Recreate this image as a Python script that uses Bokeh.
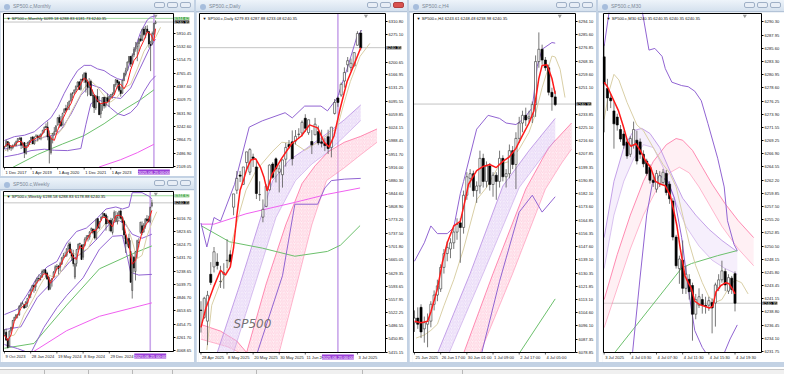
from bokeh.plotting import figure
from bokeh.models import Range1d, FixedTicker, PrintfTickFormatter, Label, Div, LinearAxis
from bokeh.layouts import row, column
from bokeh.embed import file_html
from bokeh.resources import INLINE

FONT = "Liberation Sans"
FSN = 4.1
FS = "%.1fpx" % FSN
PRICE = 6240.35
ASK = 6344.62
CROSS = "2025.06.25 00:00"

# ---------------- Monthly ----------------
m_open = [2645, 2683,2816,2716,2633,2643,2718,2705,2822,2897,2926,2718,2790,
          2476,2703,2798,2848,2953,2751,2971,2981,2910,2983,3050,3144,
          3245,3236,2974,2499,2869,3038,3106,3289,3508,3386,3296,3645,
          3764,3731,3842,3993,4192,4217,4300,4406,4529,4318,4610,4602,
          4778,4519,4363,4540,4131,4150,3781,4113,3937,3610,3901,4087,
          3853,4070,3964,4102,4166,4181,4450,4578,4530,4284,4202,4568,
          4743,4862,5098,5258,5029,5298,5471,5537,5623,5758,5723,6040,
          5903,6041,5969,5597,5626,5897,6199]
m_high = [2695, 2873,2835,2801,2718,2742,2791,2848,2917,2941,2940,2815,2800,
          2708,2814,2860,2949,2955,2965,3028,3014,3022,3050,3154,3248,
          3338,3393,3136,2955,3068,3233,3280,3514,3588,3549,3646,3760,
          3870,3950,3995,4218,4238,4302,4429,4537,4546,4608,4744,4808,
          4818,4595,4637,4593,4307,4178,4140,4325,4120,3905,4080,4101,
          4095,4195,4110,4170,4232,4458,4607,4584,4541,4393,4588,4793,
          4932,5111,5265,5264,5342,5524,5670,5651,5768,5879,6045,6100,
          6129,6147,5987,5696,5968,6215,6289]
m_low = [2605, 2682,2533,2585,2553,2594,2698,2698,2803,2864,2604,2631,2347,
         2444,2681,2722,2848,2751,2729,2953,2822,2892,2856,3050,3070,
         3214,2855,2192,2447,2767,2999,3101,3285,3209,3234,3280,3633,
         3662,3725,3723,3955,4056,4165,4233,4368,4306,4278,4560,4496,
         4222,4115,4157,4124,3810,3637,3721,3955,3585,3491,3699,3764,
         3794,3944,3809,4049,4048,4166,4385,4335,4238,4104,4197,4546,
         4682,4853,5056,4954,5012,5235,5390,5120,5402,5674,5696,5832,
         5774,5923,5505,4835,5578,5861,6178]
m_close = [2674, 2824,2714,2641,2648,2705,2718,2816,2902,2914,2712,2760,2507,
           2704,2784,2834,2946,2752,2942,2980,2926,2977,3038,3141,3231,
           3226,2954,2585,2912,3044,3100,3271,3500,3363,3270,3622,3756,
           3714,3811,3973,4181,4204,4298,4395,4523,4308,4605,4567,4766,
           4516,4374,4530,4132,4132,3785,4130,3955,3586,3872,4080,3840,
           4077,3970,4109,4169,4180,4450,4589,4508,4288,4194,4568,4770,
           4846,5096,5254,5036,5278,5460,5522,5648,5762,5705,6032,5882,
           6041,5955,5612,5569,5912,6205,6240]
m_yticks = [2109.05, 2486.90, 2864.75, 3242.60, 3631.90, 4009.75, 4387.60, 4765.45, 5154.75, 5532.60, 5910.45]
m_xt = [0, 16, 32, 48, 64]
m_xl = ["1 Dec 2017", "1 Apr 2019", "1 Aug 2020", "1 Dec 2021", "1 Apr 2023"]
m_red_x = [0,2,4,6,8,10,12,14,16,18,20,22,24,26,27,28,30,32,34,36,38,40,42,44,46,48,50,52,54,56,58,60,62,64,66,68,70,72,74,76,78,80,82,84,86,88,90,91]
m_red_y = [2660,2770,2680,2690,2810,2830,2650,2660,2850,2880,2950,2960,3140,3200,3020,2910,2850,3140,3380,3550,3760,3900,4150,4300,4470,4640,4560,4380,4160,4000,3900,3930,3930,4050,4150,4400,4460,4330,4500,4870,5140,5260,5520,5720,5960,5900,5700,6050]
m_tan_x = [0,4,8,12,16,20,24,28,32,36,40,44,48,52,56,60,64,68,72,76,80,84,88,91,94]
m_tan_y = [2550,2640,2720,2770,2740,2850,2960,3050,3030,3250,3650,4000,4350,4560,4380,4130,3950,4100,4350,4460,4900,5400,5700,5800,6090]
m_bbu_x = [0,6,12,18,24,28,32,36,40,44,48,52,56,60,64,68,71,74,78,82,86,88,91]
m_bbu_y = [2850,2960,3000,3100,3350,3500,3800,4200,4550,4850,5000,5000,4900,4850,4720,4620,4580,4850,5400,5950,6300,6380,6420]
m_bbm_x = [0,8,16,24,30,34,40,46,52,58,64,70,76,82,88,91]
m_bbm_y = [2600,2700,2800,2950,3000,3150,3600,4150,4450,4350,4100,4050,4350,4950,5550,5750]
m_bbl_x = [0,8,16,24,30,38,46,49,52,56,60,64,68,72,76,80,84,88,91]
m_bbl_y = [2380,2450,2560,2600,2570,2560,2620,3300,3900,4020,3950,3780,3620,3560,3650,3850,4250,4550,4700]
m_grn_x = [5,20,35,48,60,72,82,90]
m_grn_y = [2080,2450,2750,2990,3330,3730,4020,4300]
m_mag_x = [57,70,80,90]
m_mag_y = [2090,2300,2500,2740]

# ---------------- Weekly ----------------
w_open = [4289,4342,4238,4140,4364,4407,4511,4554,4594,4593,
          4725,4759,4745,4703,4766,4853,4892,4957,5026,5003,
          5093,5130,5111,5154,5219,5258,5211,5149,4987,5114,
          5143,5233,5305,5316,5297,5341,5432,5459,5471,5572,
          5638,5505,5476,5151,5351,5557,5637,5623,5442,5615,
          5711,5757,5737,5835,5857,5833,5723,6009,5875,5992,
          6040,6083,6063,5940,5982,5982,5805,6014,5969,5970,
          6046,6121,6027,5969,5764,5635,5718,5527,4953,5441,
          5232,5529,5659,5808,5903,5810,5896,6005,6004,5970,6194]
w_high = [4386,4394,4256,4366,4418,4521,4568,4607,4609,4739,
          4778,4793,4755,4798,4842,4903,4975,5030,5048,5111,
          5140,5190,5179,5262,5265,5264,5230,5168,5114,5139,
          5240,5325,5342,5316,5375,5447,5505,5524,5570,5655,
          5670,5566,5551,5355,5561,5643,5651,5626,5636,5733,
          5767,5767,5823,5879,5863,5860,6012,6018,5973,6044,
          6099,6085,6085,6049,5993,6021,6014,6129,6120,6101,
          6127,6147,6043,5987,5786,5715,5787,5691,5482,5460,
          5528,5700,5721,5958,5968,5943,6017,6060,6050,6187,6289]
w_low = [4283,4223,4103,4126,4334,4388,4504,4537,4546,4583,
         4695,4751,4682,4700,4714,4845,4842,4940,4920,4946,
         5057,5087,5104,5140,5203,5146,5107,4954,4963,5011,
         5142,5207,5257,5191,5234,5331,5432,5446,5448,5546,
         5497,5390,5306,5120,5306,5550,5560,5403,5403,5601,
         5690,5674,5700,5805,5779,5703,5696,5853,5853,5971,
         6024,6024,5832,5933,5824,5809,5774,6006,5962,5923,
         6004,6008,5837,5711,5505,5597,5573,5069,4835,5220,
         5101,5434,5589,5786,5767,5808,5861,5952,5952,5943,6174]
w_close = [4327,4224,4117,4358,4415,4514,4559,4594,4604,4719,
           4754,4770,4697,4784,4840,4891,4959,5027,5006,5089,
           5137,5124,5117,5234,5254,5204,5123,4967,5100,5128,
           5223,5303,5305,5278,5347,5432,5465,5460,5567,5615,
           5505,5459,5347,5344,5554,5634,5648,5408,5626,5703,
           5738,5751,5815,5864,5808,5729,5995,5870,5969,6032,
           6090,6051,5931,5971,5942,5827,5997,6101,6041,6026,
           6115,6013,5955,5770,5639,5667,5581,5074,5363,5283,
           5525,5686,5660,5958,5802,5912,6000,5977,5968,6173,6240]
w_yticks = [4068.65, 4261.70, 4454.75, 4653.65, 4846.70, 5039.75, 5238.65, 5431.70, 5624.75, 5823.65, 6016.70]
w_xt = [0, 16, 32, 48, 64]
w_xl = ["9 Oct 2023", "28 Jan 2024", "19 May 2024", "8 Sep 2024", "29 Dec 2024"]
w_red_x = [0,2,4,6,8,10,12,14,16,18,20,22,24,26,28,30,32,34,36,38,40,42,44,46,48,50,52,54,56,58,60,62,64,66,68,70,72,74,76,78,80,82,84,86,88,90]
w_red_y = [4300,4220,4300,4500,4590,4690,4740,4770,4900,5000,5080,5125,5200,5190,5060,5150,5280,5310,5415,5500,5560,5440,5410,5610,5560,5690,5770,5830,5840,5940,6030,6020,5950,5890,6050,6060,6030,5790,5630,5340,5390,5620,5810,5905,5980,6130]
w_tan_x = [3,6,9,12,15,18,21,24,27,30,33,36,39,42,45,48,51,54,57,60,63,66,69,72,75,78,81,84,87,90,93]
w_tan_y = [4280,4300,4420,4600,4720,4850,5000,5120,5180,5150,5180,5280,5400,5500,5470,5530,5570,5720,5810,5890,5990,5970,5960,6020,5900,5680,5420,5470,5750,5950,6110]
w_bbu_x = [0,8,14,20,26,32,38,44,50,56,62,68,72,76,78,84,88,90]
w_bbu_y = [4600,4680,4900,5150,5300,5380,5650,5820,5870,6000,6150,6180,6150,6180,6390,6390,6340,6300]
w_bbm_x = [0,10,20,30,40,50,58,64,70,74,78,84,90]
w_bbm_y = [4380,4420,4850,5100,5380,5550,5750,5930,5980,5920,5780,5720,5780]
w_bbl_x = [0,8,16,24,32,38,48,58,66,72,75,77,82,90]
w_bbl_y = [4160,4100,4030,4410,4700,4880,5140,5560,5750,5760,5450,5220,5180,5190]
w_grn_x = [0,18,38,58,78,90]
w_grn_y = [4106,4176,4740,5272,5491,5608]
w_mag_x = [16,38,58,90]
w_mag_y = [4030,4364,4575,4772]

# ---------------- Daily ----------------
d_open = [5529,5509,5499,5626,5646, 5659,5606,5626,5663,5679, 5808,5854,5895,5870,5929,
          5903,5944,5917,5842,5781, 5810,5855,5925,5939,5903, 5896,5938,5978,5985,5987,
          6005,6009,6049,6010,5986, 6004,6013,5985,5981,5999, 5970,6062,6104,6112,6150,
          6194,6187,6191,6247,6280]
d_high = [5553,5565,5581,5659,5700, 5683,5649,5656,5721,5691, 5844,5906,5906,5917,5958,
          5968,5953,5938,5878,5829, 5870,5924,5930,5943,5923, 5937,5982,5990,6016,6017,
          6022,6043,6060,6045,6017, 6050,6029,6018,5995,6018, 6025,6101,6108,6146,6187,
          6215,6211,6228,6285,6288]
d_low = [5468,5505,5434,5597,5631, 5639,5589,5587,5643,5646, 5786,5844,5876,5868,5907,
         5895,5917,5830,5825,5767, 5808,5853,5885,5875,5848, 5861,5918,5966,5921,5978,
         5994,6000,6012,6004,5952, 6004,5976,5970,5960,5952, 5943,6059,6080,6107,6132,
         6174,6177,6190,6246,6233]
d_close = [5528,5561,5569,5604,5687, 5650,5607,5631,5664,5660, 5844,5886,5892,5917,5958,
           5964,5940,5845,5842,5802, 5865,5922,5889,5912,5912, 5936,5970,5971,5939,6000,
           6006,6038,6022,6045,5977, 6033,5982,5981,5975,5967, 6025,6092,6092,6141,6173,
           6205,6198,6227,6279,6240]
d_yticks = [5415.15, 5450.85, 5486.55, 5522.25, 5557.95, 5593.65, 5629.35, 5665.05, 5701.80, 5737.50,
            5773.20, 5808.90, 5844.60, 5880.30, 5916.00, 5951.70, 5988.45, 6024.15, 6059.85, 6095.55,
            6131.25, 6166.95, 6200.65, 6275.10, 6310.80]
d_xt = [0, 8, 16, 24, 32, 48]
d_xl = ["28 Apr 2025", "8 May 2025", "20 May 2025", "30 May 2025", "11 Jun 2025", "3 Jul 2025"]
d_red_x = [0,1.5,4,6,7.5,9,10,11,12,13,14,15.3,16.8,18.3,19.3,20.3,21.8,24.8,27.8,30.8,33.3,35.8,37.8,39.3,40.8,42.8,44.8,46.8,49]
d_red_y = [5482,5534,5594,5637,5624,5646,5698,5785,5854,5880,5910,5936,5939,5915,5890,5852,5897,5941,5980,6001,6031,6023,5984,5971,6001,6079,6148,6191,6240]
d_tan_x = [1.8,3.3,5.8,7.8,9.8,11.8,13.8,16.8,21.8,24.8,28.8,31.8,35.8,39.8,41.8,43.8,45.8,48.8,51.8]
d_tan_y = [5421,5542,5600,5629,5724,5793,5854,5906,5958,5984,5980,5962,5984,6010,6023,6088,6148,6217,6252]
d_bbu_x = [0,1.8,4,6,10.3,14.8,18.8,25.8,28,31.8,36.8,38.8,41.8,44.8,47.8,49.3]
d_bbu_y = [5765,5700,5780,5770,5870,6025,6042,6064,6050,6082,6082,6069,6104,6182,6269,6288]
d_bbl_x = [17.3,25,28.8,35.8,38,40,44,49]
d_bbl_y = [5414,5622,5816,5816,5860,5880,5884,5886]
d_grn_x = [0,8.8,18.8,28.8,38.8,42.8,48.8]
d_grn_y = [5758,5714,5697,5675,5688,5705,5758]
d_mag_x = [0,4,13.8,28.8,38.8,48.8]
d_mag_y = [5762,5762,5790,5821,5843,5860]
d_pur_up_x = [5,12,18,22,27,32,39,44,49]
d_pur_up_y = [5414,5600,5770,5880,5935,5965,6010,6045,6085]
d_pur_lo_x = [10,17,23,29,34,39,44,49]
d_pur_lo_y = [5414,5610,5780,5880,5925,5958,6000,6043]
d_pnk_up_x = [0,6,11,14,20,26,31,35,39,44,49,54]
d_pnk_up_y = [5490,5472,5445,5414,5600,5760,5872,5920,5958,5984,6000,6020]
d_pnk_lo_x = [0,8,14,20,24,30,34,38.5,44,49,54]
d_pnk_lo_y = [5450,5430,5405,5395,5414,5620,5760,5880,5915,5950,5984]

# ---------------- H4 ----------------
h_open = [6098,6101,6108,6094,6097,6099,6110,6116,6120,6134,6143,6146,6150,6157,6163,6160,6181,6192,6195,6184,
          6187,6205,6190,6200,6188,6194,6190,6205,6193,6195,6210,6201,6218,6228,6233,6231,6232,6240,6268,6276,
          6269,6264,6248,6245]
h_high = [6106,6108,6110,6102,6104,6112,6119,6126,6136,6146,6151,6153,6160,6166,6166,6184,6196,6198,6197,6190,
          6210,6208,6203,6202,6196,6196,6210,6207,6198,6214,6213,6222,6232,6236,6238,6236,6242,6272,6287,6279,
          6271,6266,6251,6249]
h_low = [6092,6094,6088,6085,6082,6095,6106,6112,6118,6130,6138,6140,6146,6152,6137,6156,6178,6186,6180,6176,
         6182,6186,6186,6184,6180,6178,6186,6190,6186,6192,6198,6185,6215,6222,6226,6228,6228,6232,6264,6266,
         6262,6246,6236,6239]
h_close = [6101,6097,6092,6098,6099,6110,6116,6122,6134,6143,6147,6150,6157,6162,6160,6181,6193,6195,6184,6187,
           6205,6190,6200,6188,6194,6190,6205,6193,6195,6210,6201,6218,6228,6233,6230,6232,6240,6268,6276,6269,
           6264,6248,6245,6240]
h_yticks = [6078.85, 6087.35, 6096.10, 6104.60, 6113.10, 6121.85, 6130.35, 6139.10, 6147.60, 6156.35,
            6164.85, 6173.60, 6182.10, 6190.85, 6199.35, 6207.85, 6216.60, 6225.10, 6233.85, 6251.10,
            6259.60, 6268.35, 6276.85, 6285.60, 6294.10]
h_xt = [0, 8, 16, 24, 32, 40]
h_xl = ["25 Jun 2025", "26 Jun 17:00", "30 Jun 01:00", "1 Jul 09:00", "2 Jul 17:00", "4 Jul 05:00"]
h_red_x = [0,2,4,5,7,8.5,10,12,14,15.5,16.5,19,21,23,25,27,29,31,33,35,36.5,38,39,40.5,42,43]
h_red_y = [6099,6098,6099,6105,6120,6137,6150,6161,6164,6178,6188,6197,6199.7,6201,6199,6203,6206,6211.5,6220,6228,6236,6257,6265.5,6266,6257,6247]
h_tan_x = [0.5,3,5,7,9,12,15,19,22,26,29,32,35,37,39,42,43,44.5,46]
h_tan_y = [6088,6090,6093,6097,6109,6126,6146,6178,6186,6201,6203,6211,6222,6234,6251,6271.6,6271,6263,6244.6]
h_bbu_x = [0,3,5,7,10,12,14,15,19,22.5,26,28,31,33.5,36,37.5,39,42,43]
h_bbu_y = [6138,6150,6161,6156,6156,6160,6182,6190,6224,6233,6231,6228,6227,6231,6238,6265,6276,6280.4,6280]
h_bbl_x = [20.5,26,32,36,39,43]
h_bbl_y = [6078,6125,6170,6181,6170,6180]
h_grn_x = [32,43]
h_grn_y = [6078,6113.5]
h_pur_up_x = [7,17,27,35,43]
h_pur_up_y = [6078,6130,6187,6210,6231]
h_pur_lo_x = [10.5,21,32,38,43]
h_pur_lo_y = [6078,6130,6186,6203,6217]
h_pnk_up_x = [15,24,34,41,48]
h_pnk_up_y = [6078,6130,6185,6212,6228]
h_pnk_lo_x = [20,30,40,45,48]
h_pnk_lo_y = [6078,6130,6185,6202,6211]

# ---------------- M30 ----------------
s_open = [6284.1,6278.5,6276.8,6274.5,6273.4,6271.2,6270.4,6269.0,6266.8,6268.4,6269.3,6269.0,6266.8,6265.6,6264.5,
          6262.2,6260.6,6261.5,6261.8,6263.4,6261.5,6258.5,6252.1,6246.5,6248.0,6243.0,6244.6,6243.5,6238.4,6240.0,
          6241.0,6240.0,6240.0,6240.5,6240.4,6243.0,6244.5,6246.0,6242.5,6244.8,6245.6]
s_high = [6286.4,6280.2,6277.5,6276.2,6274.0,6272.0,6271.0,6269.5,6270.0,6272.6,6271.0,6269.6,6267.5,6266.0,6265.0,
          6263.0,6264.0,6263.8,6264.2,6264.0,6262.0,6259.0,6252.5,6248.8,6251.5,6247.0,6245.5,6244.0,6242.0,6243.0,
          6242.0,6241.5,6241.5,6241.2,6244.0,6245.5,6247.9,6246.5,6245.5,6245.2,6246.0]
s_low = [6270.7,6274.5,6275.0,6267.8,6271.0,6269.0,6267.8,6266.0,6266.3,6267.8,6265.0,6266.0,6264.5,6263.0,6261.6,
         6261.0,6260.0,6261.0,6261.4,6259.5,6258.0,6251.5,6246.5,6243.8,6242.0,6242.0,6241.0,6233.7,6237.5,6239.5,
         6238.5,6238.5,6239.0,6235.0,6236.2,6242.5,6244.0,6242.5,6242.0,6242.0,6238.9]
s_close = [6279.3,6276.8,6276.3,6272.2,6272.0,6269.5,6268.4,6266.5,6269.6,6271.2,6265.6,6266.8,6265.1,6263.4,6262.2,
           6261.8,6263.4,6263.0,6263.6,6260.0,6258.9,6252.1,6247.0,6248.2,6243.0,6245.5,6242.4,6238.4,6241.0,6241.5,
           6240.0,6239.8,6240.8,6239.5,6243.6,6244.5,6246.1,6243.6,6244.9,6242.8,6240.35]
s_yticks = [6231.75, 6234.10, 6236.45, 6238.80, 6241.15, 6243.45, 6245.80, 6248.15, 6250.50, 6252.85, 6255.20,
            6257.50, 6259.85, 6262.20, 6264.55, 6266.90, 6269.25, 6271.55, 6273.90, 6276.25, 6278.60, 6280.95,
            6283.30, 6285.60, 6287.95, 6290.30]
s_xt = [0, 8, 16, 24, 32, 40]
s_xl = ["3 Jul 2025", "4 Jul 03:30", "4 Jul 07:30", "4 Jul 11:30", "4 Jul 15:30", "4 Jul 19:30"]
s_red_x = [0,1,4.4,5.9,7.2,8.2,9.7,11.2,12.7,14.2,15.7,17.2,18.7,20.2,21.2,22.2,23.2,24.7,25.7,26.7,27.7,29.2,30.7,32.2,33.2,34.2,35.7,37.2,38.2,39.2,40]
s_red_y = [6279.6,6278.8,6274.5,6271.7,6269.0,6268.2,6268.7,6267.3,6265.6,6264.5,6262.0,6261.5,6261.2,6259.5,6257.0,6254.2,6250.3,6245.2,6244.0,6242.9,6240.7,6240.1,6239.8,6239.5,6239.8,6242.4,6243.5,6244.0,6243.8,6242.9,6242.0]
s_tan_x = [0,1.5,3,4.5,7,10,12,14,16,18,20,22,24,26,28,30,32,34,36,38,40,42,44]
s_tan_y = [6273,6278,6281,6280,6276,6272,6271,6269,6267,6265,6263.5,6261,6256,6251,6247,6244,6241.5,6240.5,6241,6243,6244.5,6244,6242]
s_bbu_x = [0,1.5,6,11.7,13.7,15.5,17.7,18.7,20.7,23.7,25.7,27.7,29.7,31.7,34.7,36.7,37.7,39.7,40.7]
s_bbu_y = [6286,6292,6300,6292,6285.3,6285.6,6284.2,6282,6279.6,6279,6278.8,6278,6276.3,6272.3,6266.1,6261,6255,6250.8,6249.7]
s_bbl_x = [8.7,11,13,14.7,17,19.5,21.5,23.7,25.7,27.7,30,31.7,33,35,36.7,38.5,40.7]
s_bbl_y = [6231.7,6245,6256,6261.5,6263,6262,6259,6252,6243,6235.5,6232.5,6231,6229,6229,6231.5,6234,6236.5]
s_grn_x = [3.4,23.7,26.7,34.7,40.7]
s_grn_y = [6231.7,6246.6,6247.4,6248.8,6249.7]
s_pur_up_x = [0,3,6,9,11.5,14,17,20,24,28,32,36,40.7]
s_pur_up_y = [6252,6262,6268,6271,6271.4,6270.5,6268,6264,6259,6256,6253.5,6251.5,6249.5]
s_pur_lo_x = [0,3,6,9,12,15,18,21,25,29,33,37,40.7]
s_pur_lo_y = [6246.5,6256,6262,6266,6268.5,6268,6264.5,6259.5,6254,6250.5,6248,6246.5,6245.5]
s_pnk_up_x = [0,4,8,12,15,19,22,24,27,30,33,37,41,45.7]
s_pnk_up_y = [6241,6249,6256,6262,6265.5,6268.5,6269.6,6269.3,6267.5,6264.5,6261.5,6258,6255,6252]
s_pnk_lo_x = [0,4,8,12,16,20,23,26,29,32,36,41,45.7]
s_pnk_lo_y = [6236,6243,6250,6256,6260.5,6263.5,6264.5,6263.5,6261,6258,6254,6250,6247]

C_RED = "#ff1a1a"
C_TAN = "#d9cfa6"
C_BB = "#9164d2"
C_GRN = "#6cc06c"
C_MAG = "#f060f0"

CHW = {" ": 0.278, ":": 0.278, ".": 0.278, "l": 0.222, "t": 0.278, "r": 0.333, "J": 0.5,
       "y": 0.5, "M": 0.833, "A": 0.667, "D": 0.722, "S": 0.667, "O": 0.778, "N": 0.722, "F": 0.611}


def text_w(s):
    return sum(CHW.get(ch, 0.556) for ch in s) * FSN


class Geo:
    pass


def panel(W, H, lb, plot_w, plot_h, xr, yr, yticks, xt, xl, legend, shift_x):
    g = Geo()
    g.xr, g.yr = xr, yr
    g.xper = (xr[1] - xr[0]) / plot_w
    g.yper = (yr[1] - yr[0]) / plot_h
    fx0 = xr[0] - 1 * g.xper
    fx1 = fx0 + (W - lb) * g.xper
    fy1 = yr[1] + 1 * g.yper
    fy0 = fy1 - H * g.yper
    g.fx, g.fy = (fx0, fx1), (fy0, fy1)
    p = figure(width=W, height=H, x_range=Range1d(fx0, fx1), y_range=Range1d(fy0, fy1),
               x_axis_location=None, y_axis_location=None, toolbar_location=None,
               output_backend="svg", min_border_left=lb, min_border_right=0,
               min_border_top=0, min_border_bottom=0)
    p.grid.visible = False
    p.outline_line_color = None
    p.border_fill_color = "white"
    p.background_fill_color = "white"
    ya = LinearAxis(fixed_location=xr[1], ticker=FixedTicker(ticks=yticks),
                    formatter=PrintfTickFormatter(format="%.2f"))
    ya.major_label_text_font_size = FS
    ya.major_label_text_font = FONT
    ya.major_label_text_color = "#222222"
    ya.major_label_standoff = 1
    ya.major_tick_out = 2
    ya.major_tick_in = 0
    ya.minor_tick_out = 0
    ya.minor_tick_in = 0
    ya.axis_line_color = None
    p.add_layout(ya, "right")
    # MT draws each date starting at its bar: centre the label half its width to the right
    shifted = [round(t + text_w(s) / 2.0 * g.xper + 1.0 * g.xper, 3) for t, s in zip(xt, xl)]
    xa = LinearAxis(fixed_location=yr[0], ticker=FixedTicker(ticks=shifted),
                    major_label_overrides={k: s for k, s in zip(shifted, xl)})
    xa.major_label_text_font_size = FS
    xa.major_label_text_font = FONT
    xa.major_label_text_color = "#222222"
    xa.major_label_standoff = 2
    xa.major_tick_out = 0
    xa.major_tick_in = 0
    xa.minor_tick_out = 0
    xa.minor_tick_in = 0
    xa.axis_line_color = None
    p.add_layout(xa, "below")
    g.xt = xt
    g.shift_x = shift_x
    p.add_layout(Label(x=xr[0] + 3 * g.xper, y=yr[1] - 2 * g.yper, text=legend,
                       text_font=FONT, text_font_size=FS, text_baseline="top", text_color="#111111"))
    return p, g


def finish(p, g, ask=False, cross=None):
    xr, yr, fx, fy = g.xr, g.yr, g.fx, g.fy
    p.quad(left=[xr[1], fx[0], fx[0], fx[0]], right=[fx[1], fx[1], xr[0], fx[1]],
           bottom=[fy[0], fy[0], fy[0], yr[1]], top=[fy[1], yr[0], fy[1], fy[1]],
           fill_color="white", line_color=None)
    p.segment(x0=g.xt, y0=[yr[0]] * len(g.xt), x1=g.xt, y1=[yr[0] - 2 * g.yper] * len(g.xt),
              line_color="#333333", line_width=0.8)
    p.quad(left=[xr[0]], right=[xr[1]], bottom=[yr[0]], top=[yr[1]],
           fill_color=None, line_color="black", line_width=1)
    # chart-shift marker at the top edge
    p.scatter(x=[g.shift_x], y=[yr[1] - 2.5 * g.yper], marker="inverted_triangle", size=4,
              fill_color="#9a9a9a", line_color=None)
    p.add_layout(Label(x=xr[1] + 1 * g.xper, y=PRICE, text="%.2f" % PRICE, text_font=FONT,
                       text_font_size=FS, text_baseline="middle", text_color="white",
                       background_fill_color="black"))
    if ask:
        p.add_layout(Label(x=xr[1] + 1 * g.xper, y=ASK, text="%.2f" % ASK, text_font=FONT,
                           text_font_size=FS, text_baseline="middle", text_color="white",
                           background_fill_color="#49a84c"))
    if cross is not None:
        p.add_layout(Label(x=cross, y=yr[0] - 2 * g.yper, text=CROSS, text_font=FONT, text_font_size=FS,
                           text_align="center", text_baseline="top", text_color="white",
                           background_fill_color="#9b3fd8"))


def levels(p, g, ask=False, cross=None):
    xr, yr = g.xr, g.yr
    p.segment(x0=[xr[0]], y0=[PRICE], x1=[xr[1]], y1=[PRICE], line_color="#c4c4c4", line_width=1)
    if ask:
        p.segment(x0=[xr[0]], y0=[ASK], x1=[xr[1]], y1=[ASK], line_color="#9ed89e", line_width=1)
    if cross is not None:
        p.segment(x0=[cross], y0=[yr[0]], x1=[cross], y1=[yr[1]], line_color="#c9a6ea", line_width=1.6)


def candles(p, o, hi, lo, c, w):
    x = list(range(len(o)))
    p.segment(x0=x, y0=hi, x1=x, y1=lo, line_color="#555555", line_width=0.8)
    up = [i for i in x if c[i] >= o[i]]
    dn = [i for i in x if c[i] < o[i]]
    p.vbar(x=up, width=w, bottom=[o[i] for i in up], top=[c[i] for i in up],
           fill_color="white", line_color="#333333", line_width=0.6)
    p.vbar(x=dn, width=w, bottom=[c[i] for i in dn], top=[o[i] for i in dn],
           fill_color="black", line_color="black", line_width=0.6)


def ribbon(p, ux, uy, lx, ly, fill, edge, hatch=None):
    kw = {}
    if hatch:
        kw = dict(hatch_pattern=hatch, hatch_color=edge, hatch_alpha=0.45, hatch_scale=3.5,
                  hatch_weight=0.5)
    p.patch(x=list(ux) + list(lx)[::-1], y=list(uy) + list(ly)[::-1],
            fill_color=fill, fill_alpha=0.4, line_color=None, **kw)
    p.line(ux, uy, line_color=edge, line_width=0.8)
    p.line(lx, ly, line_color=edge, line_width=0.8, line_alpha=0.6)


PINK_FILL, PINK_EDGE = "#ffd9e3", "#ff6f9f"
PUR_FILL, PUR_EDGE = "#e8d8f7", "#b58ae2"

# Monthly
pm, gm = panel(194, 164, 2, 170, 154, (-0.6, 101.8), (2076, 6485), m_yticks, m_xt, m_xl,
               "\u25BC SP500.c,Monthly  6099.18 6288.83 6181.73 6240.35", 91)
levels(pm, gm, True, 90)
pm.line(m_mag_x, m_mag_y, line_color=C_MAG, line_width=1)
pm.line(m_grn_x, m_grn_y, line_color=C_GRN, line_width=1)
for xs, ys in [(m_bbu_x, m_bbu_y), (m_bbm_x, m_bbm_y), (m_bbl_x, m_bbl_y)]:
    pm.line(xs, ys, line_color=C_BB, line_width=1)
pm.line(m_tan_x, m_tan_y, line_color=C_TAN, line_width=1)
candles(pm, m_open, m_high, m_low, m_close, 0.6)
pm.line(m_red_x, m_red_y, line_color=C_RED, line_width=1)
finish(pm, gm, True, 90)

# Weekly
pw, gw = panel(194, 172, 2, 170, 160, (-0.6, 103.2), (4058, 6407), w_yticks, w_xt, w_xl,
               "\u25BC SP500.c,Weekly  6198.58 6288.83 6178.88 6240.35", 92.4)
levels(pw, gw, True, 89)
pw.line(w_mag_x, w_mag_y, line_color=C_MAG, line_width=1)
pw.line(w_grn_x, w_grn_y, line_color=C_GRN, line_width=1)
for xs, ys in [(w_bbu_x, w_bbu_y), (w_bbm_x, w_bbm_y), (w_bbl_x, w_bbl_y)]:
    pw.line(xs, ys, line_color=C_BB, line_width=1)
pw.line(w_tan_x, w_tan_y, line_color=C_TAN, line_width=1)
candles(pw, w_open, w_high, w_low, w_close, 0.6)
pw.line(w_red_x, w_red_y, line_color=C_RED, line_width=1)
finish(pw, gw, True, 89)

# Daily
pdl, gd = panel(211, 350, 2, 186, 339, (-0.45, 56.6), (5414, 6333), d_yticks, d_xt, d_xl,
                "\u25BC SP500.c,Daily  6279.83 6287.88 6233.08 6240.35", 50.6)
levels(pdl, gd, False, 42)
ribbon(pdl, d_pnk_up_x, d_pnk_up_y, d_pnk_lo_x, d_pnk_lo_y, PINK_FILL, PINK_EDGE, "/")
ribbon(pdl, d_pur_up_x, d_pur_up_y, d_pur_lo_x, d_pur_lo_y, PUR_FILL, PUR_EDGE, "/")
pdl.line(d_mag_x, d_mag_y, line_color=C_MAG, line_width=1)
pdl.line(d_grn_x, d_grn_y, line_color=C_GRN, line_width=1)
pdl.line(d_bbu_x, d_bbu_y, line_color=C_BB, line_width=1)
pdl.line(d_bbl_x, d_bbl_y, line_color=C_BB, line_width=1)
pdl.line(d_tan_x, d_tan_y, line_color=C_TAN, line_width=1)
candles(pdl, d_open, d_high, d_low, d_close, 0.65)
pdl.line(d_red_x, d_red_y, line_color=C_RED, line_width=1.5)
finish(pdl, gd, False, 42)
pdl.add_layout(Label(x=10, y=5490, text="SP500", text_font="DejaVu Sans", text_font_size="12px",
                     text_font_style="italic", text_color="#5a5a5a", text_baseline="middle",
                     text_alpha=0.85))

# H4
ph, gh = panel(187, 350, 3, 162, 339, (-0.3, 49.2), (6078.6, 6299.3), h_yticks, h_xt, h_xl,
               "\u25BC SP500.c,H4  6243.61 6248.48 6238.98 6240.35", 44.4)
levels(ph, gh)
ribbon(ph, h_pnk_up_x, h_pnk_up_y, h_pnk_lo_x, h_pnk_lo_y, PINK_FILL, PINK_EDGE, "/")
ribbon(ph, h_pur_up_x, h_pur_up_y, h_pur_lo_x, h_pur_lo_y, PUR_FILL, PUR_EDGE, "/")
ph.line(h_grn_x, h_grn_y, line_color=C_GRN, line_width=1)
ph.line(h_bbu_x, h_bbu_y, line_color=C_BB, line_width=1)
ph.line(h_bbl_x, h_bbl_y, line_color=C_BB, line_width=1)
ph.line(h_tan_x, h_tan_y, line_color=C_TAN, line_width=1)
candles(ph, h_open, h_high, h_low, h_close, 0.65)
ph.line(h_red_x, h_red_y, line_color=C_RED, line_width=1.5)
finish(ph, gh)

# M30
ps, gs = panel(186, 350, 4, 158, 339, (-0.2, 48.1), (6231.6, 6291.8), s_yticks, s_xt, s_xl,
               "\u25BC SP500.c,M30  6240.35 6240.35 6240.35 6240.35", 43)
levels(ps, gs)
ribbon(ps, s_pnk_up_x, s_pnk_up_y, s_pnk_lo_x, s_pnk_lo_y, PINK_FILL, PINK_EDGE)
ribbon(ps, s_pur_up_x, s_pur_up_y, s_pur_lo_x, s_pur_lo_y, PUR_FILL, PUR_EDGE)
ps.line(s_grn_x, s_grn_y, line_color=C_GRN, line_width=1)
ps.line(s_bbu_x, s_bbu_y, line_color=C_BB, line_width=1)
ps.line(s_bbl_x, s_bbl_y, line_color=C_BB, line_width=1)
ps.line(s_tan_x, s_tan_y, line_color=C_TAN, line_width=1)
candles(ps, s_open, s_high, s_low, s_close, 0.65)
ps.line(s_red_x, s_red_y, line_color=C_RED, line_width=1.5)
finish(ps, gs)


def title_bar(text, w, active=False):
    btn = ("display:inline-block;width:11px;height:6px;border:1px solid #9fb0c6;"
           "border-radius:2px;margin-left:2px;background:#e8eef6;")
    close = btn + ("background:#d9534f;border-color:#b04040;" if active else "")
    html = (f'<div style="position:relative;width:{w}px;height:12px;box-sizing:border-box;'
            f'background:linear-gradient(#eef4fa,#d5e1ee);border-bottom:1px solid #b3c3d7;'
            f'font-family:\'Liberation Sans\';font-size:5px;color:#7c8898;line-height:12px;'
            f'white-space:nowrap;overflow:hidden;">'
            f'<span style="display:inline-block;width:6px;height:6px;border-radius:50%;'
            f'background:#a6bddc;margin:0 3px 0 4px;vertical-align:middle;"></span>{text}'
            f'<span style="position:absolute;right:3px;top:2px;line-height:6px;">'
            f'<span style="{btn}"></span><span style="{btn}"></span><span style="{close}"></span>'
            f'</span></div>')
    return Div(text=html, width=w, height=12, margin=0)


tabs_html = ('<div style="width:784px;height:5px;background:#f0f0f0;border-top:1px solid #c8c8c8;'
             'box-sizing:border-box;position:relative;">'
             + ''.join(f'<span style="position:absolute;left:{x}px;top:0;width:1px;height:4px;'
                       f'background:#b8b8b8;"></span>' for x in [44, 88, 132, 172, 256, 362, 462])
             + '</div>')
tabs = Div(text=tabs_html, width=784, height=5, margin=0)

win_m = column(title_bar("SP500.c,Monthly", 194), pm, spacing=0)
win_w = column(title_bar("SP500.c,Weekly", 194), pw, spacing=0)
win_d = column(title_bar("SP500.c,Daily", 211, True), pdl, spacing=0)
win_h = column(title_bar("SP500.c,H4", 187), ph, spacing=0)
win_s = column(title_bar("SP500.c,M30", 186), ps, spacing=0)

top = row(column(win_m, win_w, spacing=2), win_d, win_h, win_s, spacing=2)
page = column(top, tabs, spacing=0, styles={"background-color": "#c3d2e4"})

open("out.html", "w").write(file_html(page, INLINE))
